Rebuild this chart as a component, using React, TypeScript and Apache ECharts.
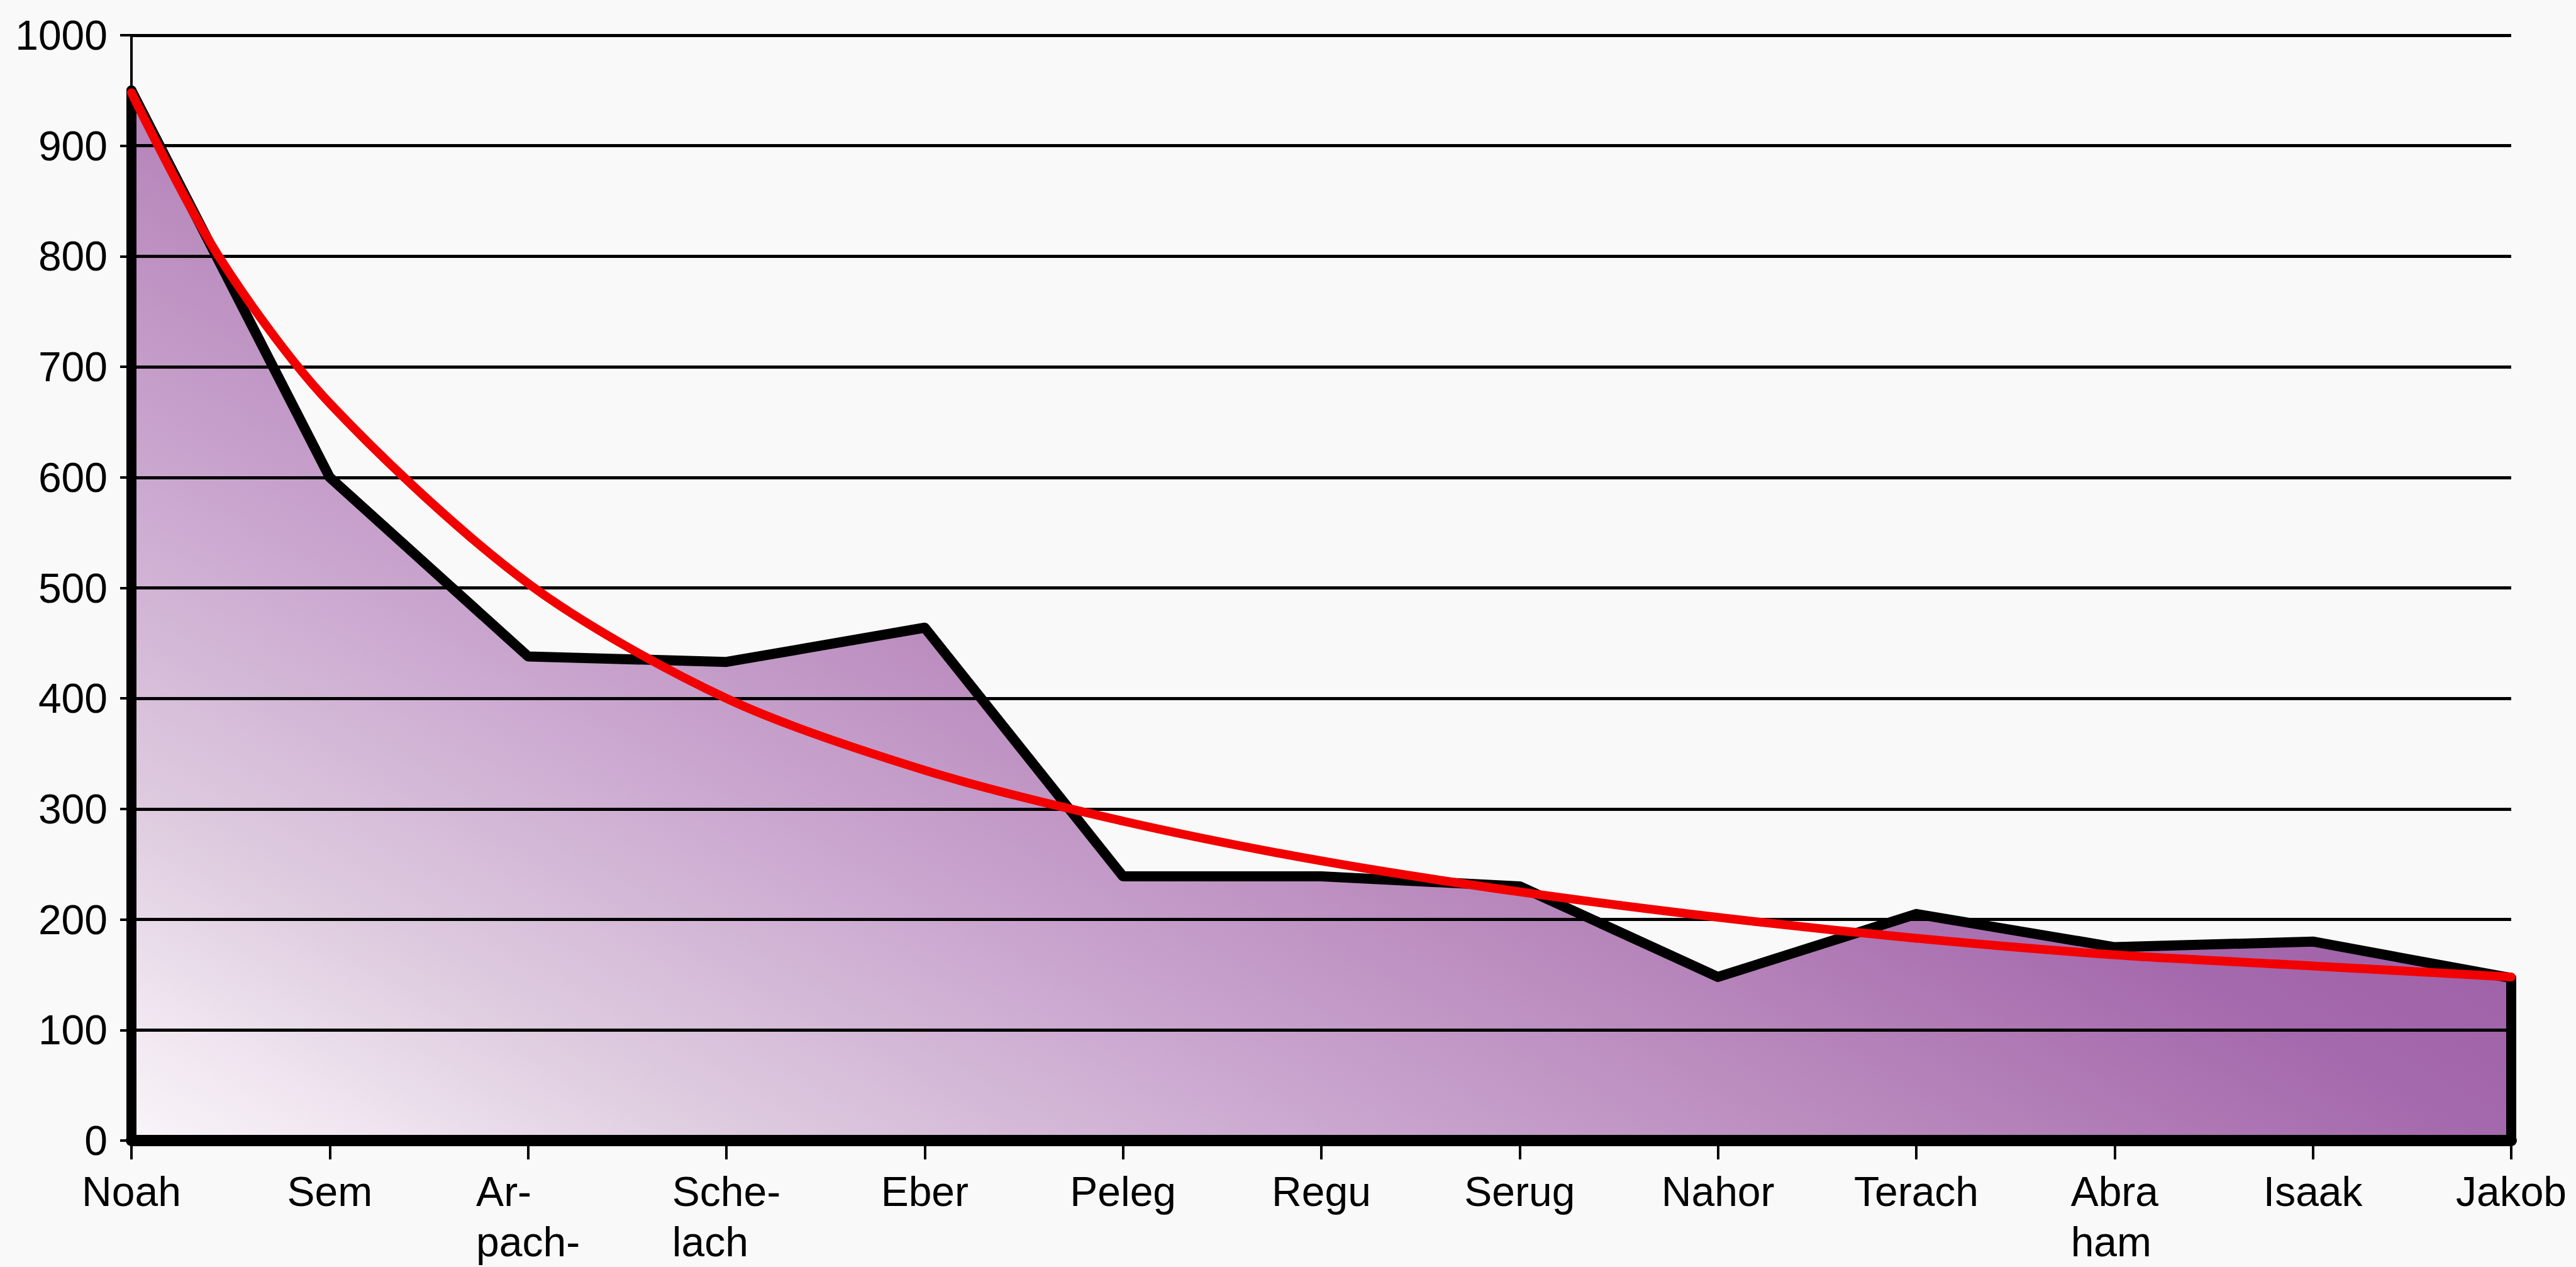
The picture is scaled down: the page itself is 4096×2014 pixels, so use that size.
import React, { useEffect, useRef } from "react";
import * as echarts from "echarts";

// ---- data ----
const tickLabels = [
  "Noah",
  "Sem",
  "Ar-\npach-",
  "Sche-\nlach",
  "Eber",
  "Peleg",
  "Regu",
  "Serug",
  "Nahor",
  "Terach",
  "Abra\nham",
  "Isaak",
  "Jakob",
];
const lifespans = [950, 600, 438, 433, 464, 239, 239, 230, 148, 205, 175, 180, 147];
// trend curve (position in category units, value)
const trendX = [0, 0.44, 1, 2, 3, 4, 5, 6, 7, 8, 9, 10, 11, 12];
const trendY = [948, 800, 667, 504, 400, 335, 289, 253, 225, 202, 183, 168, 158, 148];
const yMin = 0;
const yMax = 1000;
const yInterval = 100;

const FONT = "'Liberation Sans', Arial, Helvetica, sans-serif";

const gradientStops = [
  { offset: 0, color: "#f9f5f9" },
  { offset: 0.1, color: "#efe4ef" },
  { offset: 0.22, color: "#dfcde0" },
  { offset: 0.45, color: "#cba8d0" },
  { offset: 0.67, color: "#b888bc" },
  { offset: 0.89, color: "#a468ac" },
  { offset: 1, color: "#a062a8" },
];

export default function App() {
  const ref = useRef<HTMLDivElement>(null);

  useEffect(() => {
    if (!ref.current) return;
    const chart = echarts.init(ref.current, null, { renderer: "svg" });
    const last = tickLabels.length - 1;
    const option: any = {
      animation: false,
      backgroundColor: "#f9f9f9",
      grid: { left: 209, right: 103, top: 56, bottom: 197, containLabel: false },
      xAxis: [
        {
          type: "category",
          data: tickLabels,
          boundaryGap: false,
          z: 4,
          axisLine: { show: true, lineStyle: { color: "#000", width: 18 } },
          axisTick: { show: true, length: 30, lineStyle: { color: "#000", width: 4 } },
          splitLine: { show: false },
          axisLabel: {
            interval: 0,
            margin: 41,
            color: "#000",
            fontFamily: FONT,
            fontSize: 66,
            lineHeight: 80,
            formatter: (v: string) =>
              v
                .split("\n")
                .map((s) => "{l|" + s + "}")
                .join("\n"),
            rich: {
              l: { align: "left", fontFamily: FONT, fontSize: 66, lineHeight: 80, color: "#000" },
            },
          },
        },
        {
          type: "value",
          min: 0,
          max: last,
          show: false,
        },
      ],
      yAxis: {
        type: "value",
        min: yMin,
        max: yMax,
        interval: yInterval,
        z: 3,
        axisLine: { show: true, lineStyle: { color: "#000", width: 4 } },
        axisTick: { show: true, length: 18, lineStyle: { color: "#000", width: 4 } },
        axisLabel: {
          margin: 38,
          color: "#000",
          fontFamily: FONT,
          fontSize: 66,
          formatter: (v: number) => String(v),
        },
        splitLine: { show: true, lineStyle: { color: "#000", width: 5 } },
      },
      series: [
        {
          id: "area",
          type: "line",
          data: lifespans,
          symbol: "none",
          z: 1,
          lineStyle: { width: 0, opacity: 0 },
          areaStyle: { color: "#c8a2cc", opacity: 1 },
          silent: true,
        },
        {
          id: "lifespan",
          type: "line",
          data: lifespans,
          symbol: "none",
          z: 5,
          lineStyle: { color: "#000", width: 16, join: "round", cap: "round" },
          silent: true,
          markLine: {
            silent: true,
            symbol: ["none", "none"],
            label: { show: false },
            z: 5,
            lineStyle: { color: "#000", width: 16, type: "solid", cap: "round" },
            emphasis: { disabled: true },
            data: [
              [{ coord: [tickLabels[0], 0] }, { coord: [tickLabels[0], lifespans[0]] }],
              [{ coord: [tickLabels[last], 0] }, { coord: [tickLabels[last], lifespans[last]] }],
            ],
          },
        },
        {
          id: "trend",
          type: "line",
          xAxisIndex: 1,
          data: trendX.map((x, i) => [x, trendY[i]]),
          symbol: "none",
          smooth: 0.3,
          z: 6,
          lineStyle: { color: "#f20000", width: 14, cap: "round" },
          silent: true,
        },
      ],
    };
    chart.setOption(option);

    // diagonal gradient computed from the axes' own scales
    const p0 = chart.convertToPixel({ xAxisIndex: 0, yAxisIndex: 0 }, [0, 0]) as number[];
    let ux = 1;
    let uy = -1.8;
    const n = Math.hypot(ux, uy);
    ux /= n;
    uy /= n;
    let L = 1;
    lifespans.forEach((v, i) => {
      [0, v].forEach((val) => {
        const p = chart.convertToPixel({ xAxisIndex: 0, yAxisIndex: 0 }, [i, val]) as number[];
        const proj = (p[0] - p0[0]) * ux + (p[1] - p0[1]) * uy;
        if (proj > L) L = proj;
      });
    });
    chart.setOption({
      series: [
        {
          id: "area",
          areaStyle: {
            opacity: 1,
            color: new echarts.graphic.LinearGradient(
              p0[0],
              p0[1],
              p0[0] + ux * L,
              p0[1] + uy * L,
              gradientStops,
              true
            ),
          },
        },
      ],
    });

    return () => chart.dispose();
  }, []);

  return (
    <div
      ref={ref}
      style={{ position: "absolute", left: 0, top: 0, width: 4096, height: 2014 }}
    />
  );
}
